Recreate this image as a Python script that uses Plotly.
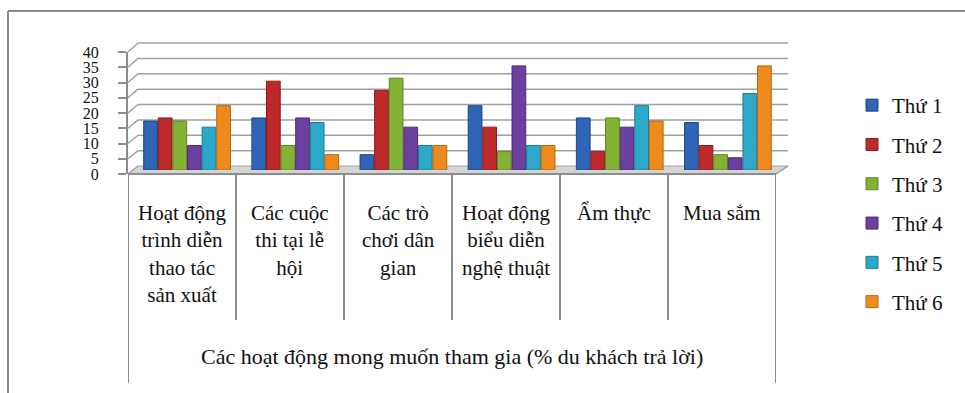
import plotly.graph_objects as go

W, H = 965, 393

categories = ["Hoạt động trình diễn thao tác sản xuất", "Các cuộc thi tại lễ hội",
              "Các trò chơi dân gian", "Hoạt động biểu diễn nghệ thuật",
              "Ẩm thực", "Mua sắm"]
category_labels = ["Hoạt động<br>trình diễn<br>thao tác<br>sản xuất",
                   "Các cuộc<br>thi tại lễ<br>hội",
                   "Các trò<br>chơi dân<br>gian",
                   "Hoạt động<br>biểu diễn<br>nghệ thuật",
                   "Ẩm thực",
                   "Mua sắm"]
series_names = ["Thứ 1", "Thứ 2", "Thứ 3", "Thứ 4", "Thứ 5", "Thứ 6"]
thu1 = [16, 17, 5, 21, 17, 15.5]
thu2 = [17, 29, 26, 14, 6, 8]
thu3 = [16, 8, 30, 6, 17, 5]
thu4 = [8, 17, 14, 34, 14, 4]
thu5 = [14, 15.5, 8, 8, 21, 25]
thu6 = [21, 5, 8, 8, 16, 34]
series_values = [thu1, thu2, thu3, thu4, thu5, thu6]
y_ticks = [0, 5, 10, 15, 20, 25, 30, 35, 40]
axis_title = "Các hoạt động mong muốn tham gia (% du khách trả lời)"

colors = ["#2F64B6", "#BE2A2C", "#84B234", "#6C40A0", "#2CA8C8", "#EE8A1E"]
edges = ["#1d4585", "#8a1a1c", "#5d8321", "#4a2a72", "#1c7a93", "#b9660f"]

FONT = "Liberation Serif"


def px(x):
    return x / W


def py(y):
    return 1 - y / H


# geometry (pixels)
FX0, FX1, FY0, FY40 = 128, 776, 174, 52     # front plane
BX0, BX1, BY0, BY40 = 138, 788, 166, 43     # back wall
MX0, MX1, MY0, MY40 = 133, 782, 170, 47.5   # bar (mid-depth) plane

fig = go.Figure()

# invisible trace for the front axes
fig.add_trace(go.Scatter(x=categories, y=[None] * len(categories), xaxis="x", yaxis="y",
                         mode="markers", showlegend=False, hoverinfo="skip"))

for i, (name, vals) in enumerate(zip(series_names, series_values)):
    fig.add_trace(go.Bar(
        x=categories, y=vals, name=name, xaxis="x2", yaxis="y2",
        marker=dict(color=colors[i], line=dict(color=edges[i], width=1)),
        legendgroup=name,
    ))

shapes = []
# outer frame
shapes.append(dict(type="line", xref="paper", yref="paper", x0=px(8), x1=px(8), y0=py(11), y1=py(400),
                   line=dict(color="#8a8a8a", width=2)))
shapes.append(dict(type="line", xref="paper", yref="paper", x0=px(8), x1=px(965), y0=py(11), y1=py(11),
                   line=dict(color="#8a8a8a", width=2)))

# floor
shapes.append(dict(type="path", xref="paper", yref="paper", layer="below",
                   path=f"M{px(FX0)},{py(FY0)} L{px(FX1)},{py(FY0)} L{px(BX1)},{py(BY0)} L{px(BX0)},{py(BY0)} Z",
                   fillcolor="#d4d4d4", line=dict(color="#a8a8a8", width=1)))

# perspective gridlines built from the tick values
for v in y_ticks:
    yf = FY0 - (FY0 - FY40) * v / 40
    yb = BY0 - (BY0 - BY40) * v / 40
    shapes.append(dict(type="line", xref="paper", yref="paper", layer="below",
                       x0=px(FX0), y0=py(yf), x1=px(BX0), y1=py(yb),
                       line=dict(color="#a0a0a0", width=1.5)))
    if v > 0:
        shapes.append(dict(type="line", xref="paper", yref="paper", layer="below",
                           x0=px(BX0), y0=py(yb), x1=px(BX1), y1=py(yb),
                           line=dict(color="#a0a0a0", width=1.5)))
# right back edge of floor
shapes.append(dict(type="line", xref="paper", yref="paper", layer="below",
                   x0=px(FX1), y0=py(FY0), x1=px(BX1), y1=py(BY0),
                   line=dict(color="#a0a0a0", width=1.5)))

# table lines below the category axis
n = len(categories)
for k in range(n + 1):
    xk = k - 0.5
    bottom = 383 if k in (0, n) else 320
    shapes.append(dict(type="line", xref="x", yref="paper", x0=xk, x1=xk,
                       y0=py(FY0), y1=py(bottom), line=dict(color="#8c8c8c", width=2)))
shapes.append(dict(type="line", xref="paper", yref="paper", x0=px(FX0), x1=px(FX1),
                   y0=py(FY0), y1=py(FY0), line=dict(color="#8c8c8c", width=2)))

annotations = []
for cat, lab in zip(categories, category_labels):
    annotations.append(dict(xref="x", yref="paper", x=cat, y=py(199), yanchor="top",
                            text=lab, showarrow=False, align="center",
                            font=dict(family=FONT, size=21, color="#111111")))
annotations.append(dict(xref="paper", yref="paper", x=px((FX0 + FX1) / 2), y=py(356),
                        xanchor="center", yanchor="middle",
                        text=axis_title, showarrow=False,
                        font=dict(family=FONT, size=22, color="#111111")))

fig.update_layout(
    width=W, height=H,
    font=dict(family=FONT, color="#111111"),
    margin=dict(l=0, r=0, t=0, b=0),
    paper_bgcolor="white", plot_bgcolor="rgba(0,0,0,0)",
    barmode="group", bargap=0.19, bargroupgap=0.06,
    xaxis=dict(domain=[px(FX0), px(FX1)], type="category", range=[-0.5, n - 0.5],
               showticklabels=False, showgrid=False, zeroline=False, showline=False,
               ticks="", automargin=False, fixedrange=True),
    yaxis=dict(domain=[py(FY0), py(FY40)], range=[0, 40], tickvals=y_ticks,
               showgrid=False, zeroline=False, showline=True, linecolor="#8c8c8c", linewidth=2,
               ticks="outside", ticklen=8, tickcolor="#8c8c8c", tickwidth=2,
               ticklabelstandoff=16,
               tickfont=dict(family=FONT, size=16, color="#111111"), automargin=False),
    xaxis2=dict(domain=[px(MX0), px(MX1)], type="category", range=[-0.5, n - 0.5],
                anchor="y2", visible=False, showgrid=False, automargin=False),
    yaxis2=dict(domain=[py(MY0), py(MY40)], range=[0, 40], anchor="x2",
                visible=False, showgrid=False, automargin=False),
    legend=dict(x=px(852), y=py(85), xanchor="left", yanchor="top",
                font=dict(family=FONT, size=21, color="#111111"),
                tracegroupgap=9, bgcolor="rgba(0,0,0,0)"),
    shapes=shapes, annotations=annotations,
    showlegend=True,
)

fig.write_html("out.html")
